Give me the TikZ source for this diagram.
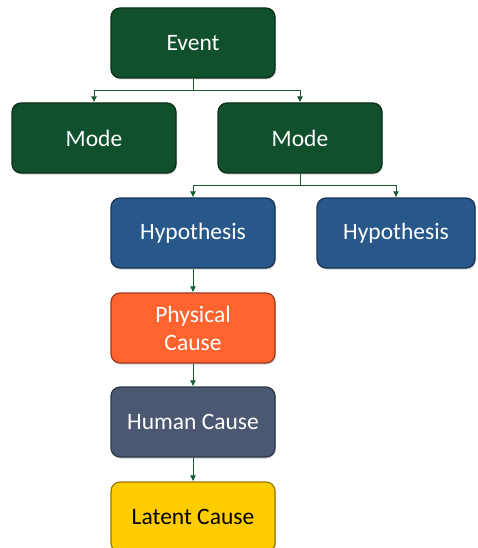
\documentclass[tikz,border=0pt]{standalone}
\usepackage{fontspec}
\setmainfont{Carlito}
\usetikzlibrary{arrows.meta,shadows}
\definecolor{evgreen}{RGB}{16,80,44}
\definecolor{hypblue}{RGB}{40,88,138}
\definecolor{physorange}{RGB}{255,100,48}
\definecolor{humanslate}{RGB}{74,88,114}
\definecolor{latentyellow}{RGB}{255,204,0}
\definecolor{linkgreen}{RGB}{24,90,50}
\tikzset{
  x=1pt, y=-1pt,
  box/.style={rounded corners=9pt, minimum width=164pt, minimum height=70pt,
    font=\fontsize{23.5}{28}\selectfont, align=center, line width=1.2pt,
    drop shadow={shadow xshift=1pt, shadow yshift=-1.5pt, opacity=0.35}},
  greenbox/.style={box, fill=evgreen, draw=evgreen!60!black, text=white},
  bluebox/.style={box, fill=hypblue, draw=hypblue!60!black, text=white},
  orangebox/.style={box, fill=physorange, draw=physorange!60!black, text=white},
  slatebox/.style={box, fill=humanslate, draw=humanslate!60!black, text=white},
  yellowbox/.style={box, fill=latentyellow, draw=latentyellow!60!black, text=black},
  link/.style={draw=linkgreen, line width=0.9pt, -{Latex[length=6pt,width=6pt]}}
}
\begin{document}
\begin{tikzpicture}
\useasboundingbox (0,0) rectangle (477,548);
\node[greenbox] (event) at (193,43) {Event};
\node[greenbox] (mode1) at (94,138) {Mode};
\node[greenbox] (mode2) at (300,138) {Mode};
\node[bluebox] (hyp1) at (193,233) {Hypothesis};
\node[bluebox, minimum width=158pt] (hyp2) at (396,233) {Hypothesis};
\node[orangebox] (phys) at (193,328) {Physical\\Cause};
\node[slatebox] (human) at (193,422) {Human Cause};
\node[yellowbox] (latent) at (193,517) {Latent Cause};
% branching connectors
\coordinate (ev-split) at (193,90);
\coordinate (md-split) at (300,185);
\draw[linkgreen, line width=0.9pt] (event.south) -- (ev-split);
\draw[link] (ev-split) -| (mode1.north);
\draw[link] (ev-split) -| (mode2.north);
\draw[linkgreen, line width=0.9pt] (mode2.south) -- (md-split);
\draw[link] (md-split) -| (hyp1.north);
\draw[link] (md-split) -| (hyp2.north);
% chain of causes
\draw[link] (hyp1) -- (phys);
\draw[link] (phys) -- (human);
\draw[link] (human) -- (latent);
\end{tikzpicture}
\end{document}
